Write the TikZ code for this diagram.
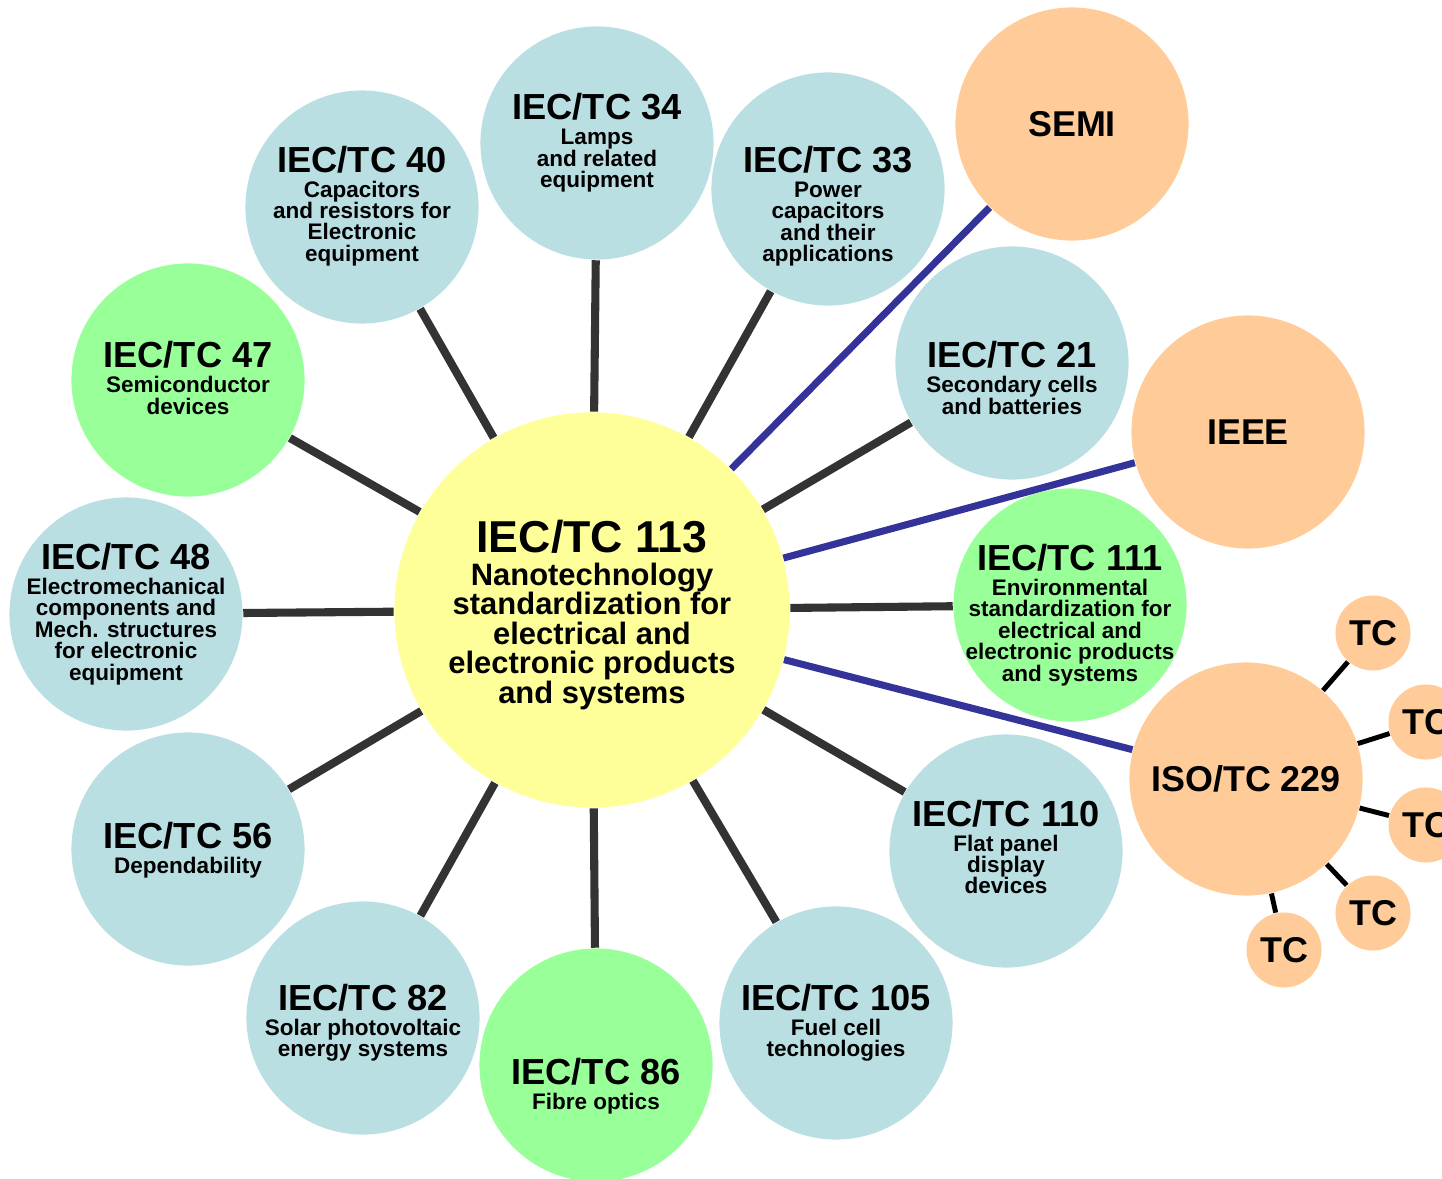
\documentclass[tikz,border=0pt]{standalone}
\usepackage{fontspec}
\setmainfont{Liberation Sans}
\usetikzlibrary{backgrounds,positioning}
\definecolor{tcblue}{HTML}{B9DFE3}
\definecolor{tcgreen}{HTML}{99FF99}
\definecolor{tcyellow}{HTML}{FFFF99}
\definecolor{orgorange}{HTML}{FFCC99}
\definecolor{linkgray}{HTML}{333333}
\definecolor{linkblue}{HTML}{333399}
\newcommand{\tcname}[2]{{\fontsize{10.3}{12}\selectfont #1}\\[1pt]#2}

\begin{document}
\begin{tikzpicture}[x=0.01cm, y=-0.01cm,
	base/.style={circle, inner sep=0pt, minimum size=2.33cm},
	tc/.style={base, fill=tcblue},
	tcg/.style={base, fill=tcgreen},
	org/.style={base, fill=orgorange, font=\bfseries\fontsize{10.2}{12}\selectfont},
	small/.style={circle, inner sep=0pt, minimum size=0.75cm, fill=orgorange, font=\bfseries\fontsize{10.2}{12}\selectfont},
	txt/.style={align=center, font=\bfseries\fontsize{6.4}{6.1}\selectfont},
	link/.style={draw=linkgray, line width=2.3pt},
	liaison/.style={draw=linkblue, line width=2pt},
	branch/.style={draw=black, line width=1.4pt}]
	\useasboundingbox (0,0) rectangle (1442,1179);

	\node[base, minimum size=3.95cm, fill=tcyellow, label={[txt, yshift=-0.05cm, font=\bfseries\fontsize{8.8}{8.4}\selectfont]center:{{\fontsize{12.7}{14}\selectfont IEC/TC 113}\\[0.8pt]Nanotechnology\\standardization for\\electrical and\\electronic products\\and systems}}] (c) at (592,610) {};

	\node[tc, label={[txt]center:{\tcname{IEC/TC 34}{Lamps\\and related\\equipment}}}] (t34) at (597,143) {};
	\node[tc, label={[txt, yshift=-0.17cm]center:{\tcname{IEC/TC 33}{Power\\capacitors\\and their\\applications}}}] (t33) at (828,189) {};
	\node[tc, label={[txt, yshift=0.01cm]center:{\tcname{IEC/TC 40}{Capacitors\\and resistors for\\Electronic\\equipment}}}] (t40) at (362,207) {};
	\node[tcg, label={[txt, yshift=0.02cm]center:{\tcname{IEC/TC 47}{Semiconductor\\devices}}}] (t47) at (188,380) {};
	\node[tc, label={[txt]center:{\tcname{IEC/TC 48}{Electromechanical\\components and\\Mech. structures\\for electronic\\equipment}}}] (t48) at (126,614) {};
	\node[tc, label={[txt, yshift=-0.01cm]center:{\tcname{IEC/TC 56}{Dependability}}}] (t56) at (188,849) {};
	\node[tc, label={[txt, yshift=-0.05cm]center:{\tcname{IEC/TC 82}{Solar photovoltaic\\energy systems}}}] (t82) at (363,1018) {};
	\node[tcg, label={[txt, yshift=-0.21cm]center:{\tcname{IEC/TC 86}{Fibre optics}}}] (t86) at (596,1065) {};
	\node[tc, label={[txt]center:{\tcname{IEC/TC 105}{Fuel cell\\technologies}}}] (t105) at (836,1023) {};
	\node[tc, label={[txt, yshift=0.04cm]center:{\tcname{IEC/TC 110}{Flat panel\\display\\devices}}}] (t110) at (1006,851) {};
	\node[tcg, label={[txt, yshift=-0.1cm]center:{\tcname{IEC/TC 111}{Environmental\\standardization for\\electrical and\\electronic products\\and systems}}}] (t111) at (1070,605) {};
	\node[tc, label={[txt, yshift=-0.15cm]center:{\tcname{IEC/TC 21}{Secondary cells\\and batteries}}}] (t21) at (1012,363) {};

	\node[org] (semi) at (1072,124) {SEMI};
	\node[org] (ieee) at (1248,432) {IEEE};
	\node[org] (iso) at (1246,779) {ISO/TC 229};

	\node[small] (s1) at (1373,633) {TC};
	\node[small] (s2) at (1426,722) {TC};
	\node[small] (s3) at (1426,825) {TC};
	\node[small] (s4) at (1373,913) {TC};
	\node[small] (s5) at (1284,950) {TC};

	\begin{scope}[on background layer]
	\path[link] (c) edge (t34) (c) edge (t33) (c) edge (t40) (c) edge (t47);
	\path[link] (c) edge (t48) (c) edge (t56) (c) edge (t82) (c) edge (t86);
	\path[link] (c) edge (t105) (c) edge (t110) (c) edge (t111) (c) edge (t21);
	\path[liaison] (c) edge (semi) (c) edge (ieee) (c) edge (iso);
	\path[branch] (iso) edge (s1) (iso) edge (s2) (iso) edge (s3) (iso) edge (s4) (iso) edge (s5);
	\end{scope}
\end{tikzpicture}
\end{document}
